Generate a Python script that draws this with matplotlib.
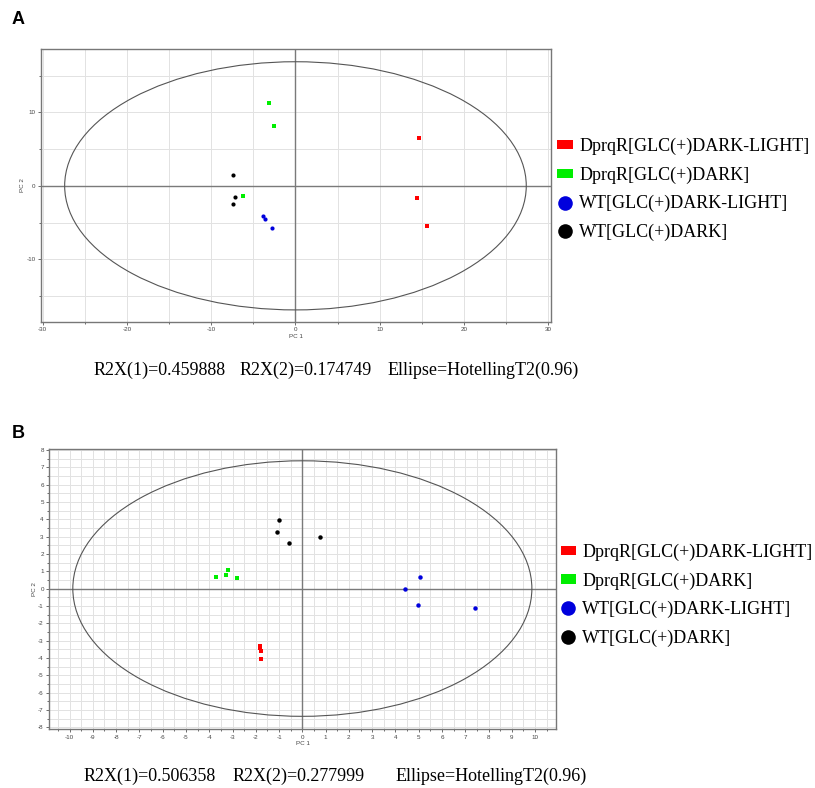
import matplotlib
matplotlib.use("Agg")
import matplotlib.pyplot as plt
from matplotlib.patches import Ellipse, Patch
from matplotlib.lines import Line2D
import numpy as np

plt.rcParams["axes.unicode_minus"] = False

# ---------------- data ----------------
groups = ["DprqR[GLC(+)DARK-LIGHT]", "DprqR[GLC(+)DARK]",
          "WT[GLC(+)DARK-LIGHT]", "WT[GLC(+)DARK]"]
colors = ["#ff0000", "#00ee00", "#0000dd", "#000000"]
markers = ["s", "s", "o", "o"]

# Panel A scores (PC1, PC2)
a_red_x = [14.67, 14.4, 15.62]
a_red_y = [6.5, -1.64, -5.5]
a_green_x = [-3.16, -2.6, -6.17]
a_green_y = [11.3, 8.1, -1.42]
a_blue_x = [-3.87, -3.6, -2.73]
a_blue_y = [-4.09, -4.46, -5.69]
a_black_x = [-7.47, -7.12, -7.47]
a_black_y = [1.54, -1.46, -2.41]
a_ellipse = (27.4, 16.9)          # semi-axes of Hotelling T2 ellipse
a_xticks = [-30, -20, -10, 0, 10, 20, 30]
a_yticks = [-10, 0, 10]
a_text = ["R2X(1)=0.459888", "R2X(2)=0.174749", "Ellipse=HotellingT2(0.96)"]

# Panel B scores (PC1, PC2)
b_red_x = [-1.82, -1.80, -1.76, -1.76]
b_red_y = [-3.33, -3.45, -3.58, -4.09]
b_green_x = [-3.72, -3.21, -3.27, -2.82]
b_green_y = [0.65, 1.06, 0.81, 0.61]
b_blue_x = [5.05, 4.39, 4.97, 7.4]
b_blue_y = [0.65, -0.04, -0.93, -1.14]
b_black_x = [-1.0, -1.08, -0.58, 0.76]
b_black_y = [3.97, 3.29, 2.62, 2.97]
b_ellipse = (9.86, 7.37)
b_xticks = list(range(-10, 11))
b_yticks = list(range(-8, 9))
b_text = ["R2X(1)=0.506358", "R2X(2)=0.277999", "Ellipse=HotellingT2(0.96)"]

SERIF = ["Liberation Serif", "DejaVu Serif"]
SANS = ["Liberation Sans", "DejaVu Sans"]

fig = plt.figure(figsize=(8.15, 7.88), dpi=100)
fig.patch.set_facecolor("white")


def draw_panel(ax, xs, ell, xticks, yticks, xlim, ylim, grid_step, minor_x, minor_y, msize):
    ax.set_xlim(*xlim)
    ax.set_ylim(*ylim)
    ax.set_xticks(xticks)
    ax.set_yticks(yticks)
    ax.set_xticks(minor_x, minor=True)
    ax.set_yticks(minor_y, minor=True)
    gx = np.arange(np.ceil(xlim[0] / grid_step) * grid_step, xlim[1], grid_step)
    gy = np.arange(np.ceil(ylim[0] / grid_step) * grid_step, ylim[1], grid_step)
    for g in gx:
        ax.axvline(g, color="#e2e2e2", lw=0.7, zorder=0)
    for g in gy:
        ax.axhline(g, color="#e2e2e2", lw=0.7, zorder=0)
    ax.axhline(0, color="#7a7a7a", lw=1.0, zorder=1)
    ax.axvline(0, color="#7a7a7a", lw=1.0, zorder=1)
    ax.add_patch(Ellipse((0, 0), 2 * ell[0], 2 * ell[1], fill=False,
                         edgecolor="#555555", lw=0.8, zorder=2))
    for (x, y), c, m in zip(xs, colors, markers):
        ax.plot(x, y, ls="none", marker=m, color=c, markersize=msize,
                markeredgewidth=0, zorder=3)
    for s in ax.spines.values():
        s.set_color("#777777")
        s.set_linewidth(1.0)
    ax.tick_params(which="both", direction="out", length=2, width=0.6,
                   color="#555555", labelsize=4.5, labelcolor="#444444", pad=2)
    ax.tick_params(which="minor", length=1.5)
    for lab in ax.get_xticklabels() + ax.get_yticklabels():
        lab.set_family(SANS)
    ax.set_xlabel("PC 1", fontsize=4.5, color="#444444", family=SANS, labelpad=1)
    ax.set_ylabel("PC 2", fontsize=4.5, color="#444444", family=SANS, labelpad=1)


def add_legend(ax, anchor):
    handles = []
    for c, m in zip(colors, markers):
        if m == "s":
            handles.append(Patch(facecolor=c, edgecolor="none"))
        else:
            handles.append(Line2D([], [], ls="none", marker="o", color=c,
                                  markersize=10.5, markeredgewidth=0))
    leg = ax.legend(handles, groups, loc="upper left", bbox_to_anchor=anchor,
                    bbox_transform=fig.transFigure, frameon=False,
                    prop={"family": SERIF, "size": 13},
                    handlelength=0.85, handleheight=0.4, handletextpad=0.35,
                    labelspacing=0.62, borderpad=0, borderaxespad=0)
    return leg


# ---------------- Panel A ----------------
axA = fig.add_axes([0.0504, 0.5918, 0.6253, 0.3457])
draw_panel(axA,
           [(a_red_x, a_red_y), (a_green_x, a_green_y),
            (a_blue_x, a_blue_y), (a_black_x, a_black_y)],
           a_ellipse, a_xticks, a_yticks, (-30.2, 30.3), (-18.5, 18.6), 5,
           list(range(-25, 30, 10)), [-15, -5, 5, 15], 3.0)
add_legend(axA, (0.684, 0.825))

# ---------------- Panel B ----------------
axB = fig.add_axes([0.0605, 0.0749, 0.6218, 0.3553])
draw_panel(axB,
           [(b_red_x, b_red_y), (b_green_x, b_green_y),
            (b_blue_x, b_blue_y), (b_black_x, b_black_y)],
           b_ellipse, b_xticks, b_yticks, (-10.87, 10.9), (-8.1, 8.05), 0.5,
           list(np.arange(-10.5, 11, 1.0)), list(np.arange(-7.5, 8, 1.0)), 3.2)
add_legend(axB, (0.688, 0.310))

# ---------------- Panel letters & stats text ----------------
fig.text(12 / 815, 1 - 20 / 788, "A", fontsize=13, fontweight="bold",
         family=SANS, va="center", ha="left")
fig.text(12 / 815, 1 - 433 / 788, "B", fontsize=13, fontweight="bold",
         family=SANS, va="center", ha="left")

for txt, xp in zip(a_text, [94, 240, 388]):
    fig.text(xp / 815, 1 - 370 / 788, txt, fontsize=13, family=SERIF,
             va="center", ha="left")
for txt, xp in zip(b_text, [84, 233, 396]):
    fig.text(xp / 815, 1 - 776 / 788, txt, fontsize=13, family=SERIF,
             va="center", ha="left")

fig.savefig("out.png", dpi=100, facecolor="white")
